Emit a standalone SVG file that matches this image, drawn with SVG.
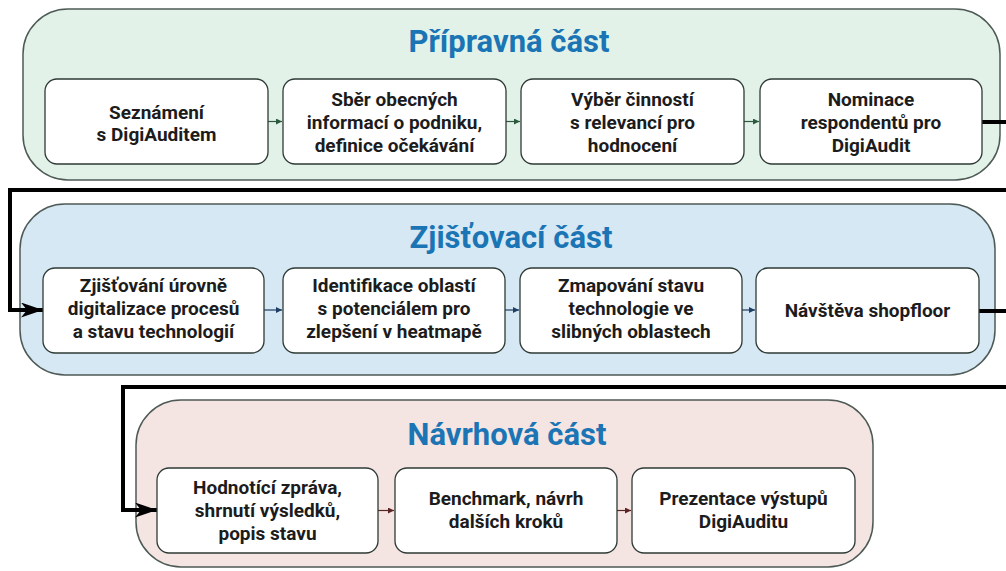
<svg xmlns="http://www.w3.org/2000/svg" width="1006" height="571" viewBox="0 0 1006 571">
<defs>
<style>
.bg{fill:#ffffff}
.grp{stroke:#4d5a55;stroke-width:1.5}
.g1{fill:#e2f2e9}
.g2{fill:#d6e8f4}
.g3{fill:#f4e4e2}
.node{fill:#ffffff;stroke:#2e3a35;stroke-width:1.3}
.title{font-family:Roboto,"Liberation Sans",sans-serif;font-weight:700;font-size:31px;fill:#1b75b5;text-anchor:middle}
.lbl{font-family:Roboto,"Liberation Sans",sans-serif;font-weight:700;font-size:19px;fill:#1c1c1c;text-anchor:middle}
.big{fill:none;stroke:#000;stroke-width:4}
.small{fill:none;stroke-width:1.2}
</style>
<marker id="bigArrow" markerUnits="userSpaceOnUse" markerWidth="24" markerHeight="16" refX="22" refY="7.5" orient="auto">
<path d="M0,0 L22,7.5 L0,15 L6,7.5 z" fill="#000"/>
</marker>
<marker id="aG" markerUnits="userSpaceOnUse" markerWidth="7" markerHeight="7" refX="6" refY="3" orient="auto"><path d="M0,0 L6,3 L0,6 z" fill="#2c5a3c"/></marker>
<marker id="aB" markerUnits="userSpaceOnUse" markerWidth="7" markerHeight="7" refX="6" refY="3" orient="auto"><path d="M0,0 L6,3 L0,6 z" fill="#1e3e63"/></marker>
<marker id="aR" markerUnits="userSpaceOnUse" markerWidth="7" markerHeight="7" refX="6" refY="3" orient="auto"><path d="M0,0 L6,3 L0,6 z" fill="#5a2424"/></marker>
</defs>
<rect class="bg" x="0" y="0" width="1006" height="571"/>

<g id="group-pripravna">
<rect class="grp g1" x="23" y="9" width="977" height="171" rx="45"/>
<text class="title" x="509" y="52">Přípravná část</text>
</g>
<g id="group-zjistovaci">
<rect class="grp g2" x="20" y="204" width="975" height="171" rx="45"/>
<text class="title" x="511" y="248">Zjišťovací část</text>
</g>
<g id="group-navrhova">
<rect class="grp g3" x="136" y="400" width="737" height="167" rx="45"/>
<text class="title" x="507" y="445">Návrhová část</text>
</g>

<g id="connectors">
<path class="small" stroke="#2c5a3c" d="M268,121.5 H282" marker-end="url(#aG)"/>
<path class="small" stroke="#2c5a3c" d="M506,121.5 H520" marker-end="url(#aG)"/>
<path class="small" stroke="#2c5a3c" d="M744,121.5 H759" marker-end="url(#aG)"/>
<path class="small" stroke="#1e3e63" d="M264,310 H282" marker-end="url(#aB)"/>
<path class="small" stroke="#1e3e63" d="M505,310 H519" marker-end="url(#aB)"/>
<path class="small" stroke="#1e3e63" d="M742,310 H755" marker-end="url(#aB)"/>
<path class="small" stroke="#5a2424" d="M378,510.5 H394" marker-end="url(#aR)"/>
<path class="small" stroke="#5a2424" d="M617,510.5 H631" marker-end="url(#aR)"/>
<path class="big" d="M982,122 H1012 V190 H10 V310 H43" marker-end="url(#bigArrow)"/>
<path class="big" d="M979,311 H1012 V387 H123 V510 H157" marker-end="url(#bigArrow)"/>
</g>

<g id="n1">
<rect class="node" x="45" y="79" width="223" height="85" rx="12"/>
<text class="lbl" x="156.5" y="119">Seznámení</text>
<text class="lbl" x="156.5" y="141">s DigiAuditem</text>
</g>
<g id="n2">
<rect class="node" x="283" y="79" width="223" height="85" rx="12"/>
<text class="lbl" x="394.5" y="106">Sběr obecných</text>
<text class="lbl" x="394.5" y="129">informací o podniku,</text>
<text class="lbl" x="394.5" y="152">definice očekávání</text>
</g>
<g id="n3">
<rect class="node" x="521" y="79" width="223" height="85" rx="12"/>
<text class="lbl" x="632.5" y="106">Výběr činností</text>
<text class="lbl" x="632.5" y="129">s relevancí pro</text>
<text class="lbl" x="632.5" y="152">hodnocení</text>
</g>
<g id="n4">
<rect class="node" x="760" y="79" width="222" height="85" rx="12"/>
<text class="lbl" x="871" y="106">Nominace</text>
<text class="lbl" x="871" y="129">respondentů pro</text>
<text class="lbl" x="871" y="152">DigiAudit</text>
</g>

<g id="n5">
<rect class="node" x="43" y="268" width="221" height="85" rx="12"/>
<text class="lbl" x="153.5" y="292">Zjišťování úrovně</text>
<text class="lbl" x="153.5" y="315">digitalizace procesů</text>
<text class="lbl" x="153.5" y="338">a stavu technologií</text>
</g>
<g id="n6">
<rect class="node" x="283" y="268" width="222" height="85" rx="12"/>
<text class="lbl" x="394" y="292">Identifikace oblastí</text>
<text class="lbl" x="394" y="315">s potenciálem pro</text>
<text class="lbl" x="394" y="338">zlepšení v heatmapě</text>
</g>
<g id="n7">
<rect class="node" x="520" y="268" width="222" height="85" rx="12"/>
<text class="lbl" x="631" y="292">Zmapování stavu</text>
<text class="lbl" x="631" y="315">technologie ve</text>
<text class="lbl" x="631" y="338">slibných oblastech</text>
</g>
<g id="n8">
<rect class="node" x="756" y="268" width="223" height="85" rx="12"/>
<text class="lbl" x="867.5" y="317">Návštěva shopfloor</text>
</g>

<g id="n9">
<rect class="node" x="157" y="468" width="221" height="85" rx="12"/>
<text class="lbl" x="267.5" y="494">Hodnotící zpráva,</text>
<text class="lbl" x="267.5" y="517">shrnutí výsledků,</text>
<text class="lbl" x="267.5" y="540">popis stavu</text>
</g>
<g id="n10">
<rect class="node" x="395" y="468" width="222" height="85" rx="12"/>
<text class="lbl" x="506" y="505">Benchmark, návrh</text>
<text class="lbl" x="506" y="528">dalších kroků</text>
</g>
<g id="n11">
<rect class="node" x="632" y="468" width="223" height="85" rx="12"/>
<text class="lbl" x="743.5" y="505">Prezentace výstupů</text>
<text class="lbl" x="743.5" y="528">DigiAuditu</text>
</g>
</svg>
